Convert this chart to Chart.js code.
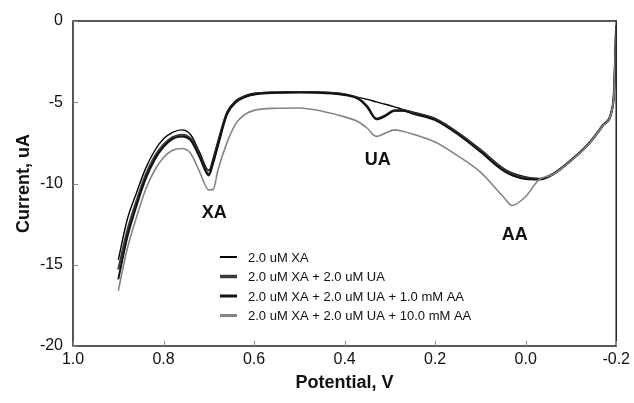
<!DOCTYPE html>
<html>
<head>
<meta charset="utf-8">
<script src="https://cdn.jsdelivr.net/npm/chart.js@4/dist/chart.umd.min.js"></script>
<style>
html, body { margin: 0; padding: 0; background: #fff; }
canvas { display: block; }
</style>
</head>
<body>
<canvas id="grafico" width="634" height="403"></canvas>
<script>
// Potencial (V) - eixo X invertido
const potential = [0.90, 0.88, 0.86, 0.84, 0.82, 0.80, 0.78, 0.76, 0.74, 0.72, 0.70, 0.69, 0.68, 0.66, 0.64, 0.62, 0.60, 0.55, 0.50, 0.45, 0.40, 0.37, 0.35, 0.33, 0.31, 0.29, 0.27, 0.25, 0.20, 0.15, 0.10, 0.05, 0.03, 0.00, -0.03, -0.06, -0.10, -0.14, -0.17, -0.19, -0.195, -0.20];

// Corrente (uA) de cada curva
const currentXA = [-14.7, -12.2, -10.6, -9.1, -8.0, -7.25, -6.85, -6.7, -7.0, -8.1, -9.2, -8.4, -7.4, -5.6, -4.9, -4.6, -4.45, -4.38, -4.35, -4.38, -4.5, -4.7, -4.82, -4.98, -5.12, -5.28, -5.45, -5.6, -6.0, -6.85, -7.9, -9.05, -9.35, -9.6, -9.7, -9.4, -8.55, -7.5, -6.4, -5.5, -4.4, -0.3];
const currentXAUA = [-15.3, -12.9, -11.1, -9.5, -8.35, -7.6, -7.15, -7.0, -7.25, -8.3, -9.4, -8.6, -7.6, -5.7, -4.95, -4.65, -4.5, -4.4, -4.37, -4.4, -4.52, -4.75, -5.25, -6.0, -5.8, -5.5, -5.5, -5.65, -6.05, -6.9, -7.95, -9.1, -9.4, -9.65, -9.72, -9.42, -8.57, -7.52, -6.42, -5.52, -4.42, -0.3];
const currentAA1 = [-15.9, -13.3, -11.4, -9.75, -8.55, -7.75, -7.25, -7.1, -7.35, -8.4, -9.5, -8.7, -7.7, -5.75, -5.0, -4.68, -4.52, -4.42, -4.4, -4.43, -4.55, -4.8, -5.3, -6.05, -5.85, -5.52, -5.52, -5.7, -6.1, -6.97, -8.05, -9.2, -9.5, -9.72, -9.75, -9.45, -8.6, -7.55, -6.45, -5.55, -4.45, -0.3];
const currentAA10 = [-16.6, -14.0, -12.1, -10.4, -9.2, -8.4, -7.95, -7.85, -8.15, -9.3, -10.4, -10.35, -9.2, -7.5, -6.3, -5.75, -5.5, -5.37, -5.35, -5.55, -5.9, -6.2, -6.6, -7.1, -6.9, -6.7, -6.8, -6.95, -7.45, -8.3, -9.3, -10.8, -11.35, -10.8, -9.75, -9.45, -8.6, -7.55, -6.45, -5.55, -4.45, -0.3];

const seriesLabels = ['2.0 uM XA', '2.0 uM XA + 2.0 uM UA', '2.0 uM XA + 2.0 uM UA + 1.0 mM AA', '2.0 uM XA + 2.0 uM UA + 10.0 mM AA'];
const xTicks = [1.0, 0.8, 0.6, 0.4, 0.2, 0.0, -0.2];
const yTicks = [0, -5, -10, -15, -20];

// Rótulos dos picos
const peakNames = ['XA', 'UA', 'AA'];
const peakPotential = [0.688, 0.327, 0.024];
const peakCurrent = [-11.8, -8.55, -13.2];

function pontos(ys) {
    return potential.map((x, i) => ({ x: x, y: ys[i] }));
}

const cores = ['#000000', '#3a3a3a', '#111111', '#858585'];
const larguras = [1.4, 2.2, 2.0, 1.6];
const legendaLarg = [2, 3.5, 3, 3];

const framePlugin = {
    id: 'frame',
    afterDraw(chart) {
        const c = chart.ctx, a = chart.chartArea;
        const xs = chart.scales.x, ys = chart.scales.y;
        c.save();
        c.strokeStyle = '#222';
        c.lineWidth = 1.5;
        c.strokeRect(a.left, a.top, a.right - a.left, a.bottom - a.top);
        c.lineWidth = 1;
        c.strokeStyle = '#888';
        c.beginPath();
        xTicks.forEach(v => {
            const px = Math.round(xs.getPixelForValue(v)) + 0.5;
            c.moveTo(px, a.bottom); c.lineTo(px, a.bottom - 5);
        });
        yTicks.forEach(v => {
            const py = Math.round(ys.getPixelForValue(v)) + 0.5;
            c.moveTo(a.left, py); c.lineTo(a.left + 5, py);
        });
        c.stroke();

        // rótulos dos picos
        c.fillStyle = '#111';
        c.font = 'bold 18px "Liberation Sans", Arial, sans-serif';
        c.textAlign = 'center';
        c.textBaseline = 'middle';
        peakNames.forEach((n, i) => {
            c.fillText(n, xs.getPixelForValue(peakPotential[i]), ys.getPixelForValue(peakCurrent[i]));
        });

        // legenda dentro do gráfico (ordem original)
        c.font = '13px "Liberation Sans", Arial, sans-serif';
        c.textAlign = 'left';
        seriesLabels.forEach((lab, i) => {
            const y = 257 + i * 19.5;
            c.strokeStyle = cores[i];
            c.lineWidth = legendaLarg[i];
            c.beginPath();
            c.moveTo(220, y); c.lineTo(237, y);
            c.stroke();
            c.fillStyle = '#111';
            c.fillText(lab, 248, y + 1);
        });
        c.restore();
    }
};

const ctx = document.getElementById('grafico').getContext('2d');

new Chart(ctx, {
    type: 'line',
    data: {
        datasets: [currentXA, currentXAUA, currentAA1, currentAA10].map((s, i) => ({
            label: seriesLabels[i],
            data: pontos(s),
            borderColor: cores[i],
            borderWidth: larguras[i],
            pointRadius: 0,
            cubicInterpolationMode: 'monotone',
            fill: false
        })).reverse() // cinza por baixo
    },
    options: {
        responsive: false,
        animation: false,
        layout: { padding: { top: 21, right: 15, left: 0, bottom: 0 } },
        plugins: {
            legend: { display: false },
            tooltip: { enabled: false }
        },
        scales: {
            x: {
                type: 'linear',
                reverse: true,
                min: -0.2,
                max: 1.0,
                grid: { display: false, drawTicks: false },
                border: { display: false },
                afterFit: s => { s.height = 57; },
                ticks: {
                    stepSize: 0.2,
                    padding: 4,
                    color: '#111',
                    font: { family: '"Liberation Sans", Arial, sans-serif', size: 16 },
                    callback: v => (Math.abs(v) < 1e-9 ? 0 : v).toFixed(1)
                },
                title: {
                    display: true,
                    text: 'Potential, V',
                    color: '#111',
                    padding: { top: 0, bottom: 9 },
                    font: { family: '"Liberation Sans", Arial, sans-serif', size: 18, weight: 'bold' }
                }
            },
            y: {
                min: -20,
                max: 0,
                grid: { display: false, drawTicks: false },
                border: { display: false },
                afterFit: s => { s.width = 73; },
                ticks: {
                    stepSize: 5,
                    padding: 10,
                    color: '#111',
                    font: { family: '"Liberation Sans", Arial, sans-serif', size: 16 }
                },
                title: {
                    display: true,
                    text: 'Current, uA',
                    color: '#111',
                    padding: { top: 13, bottom: 0 },
                    font: { family: '"Liberation Sans", Arial, sans-serif', size: 18, weight: 'bold' }
                }
            }
        }
    },
    plugins: [framePlugin]
});
</script>
</body>
</html>
